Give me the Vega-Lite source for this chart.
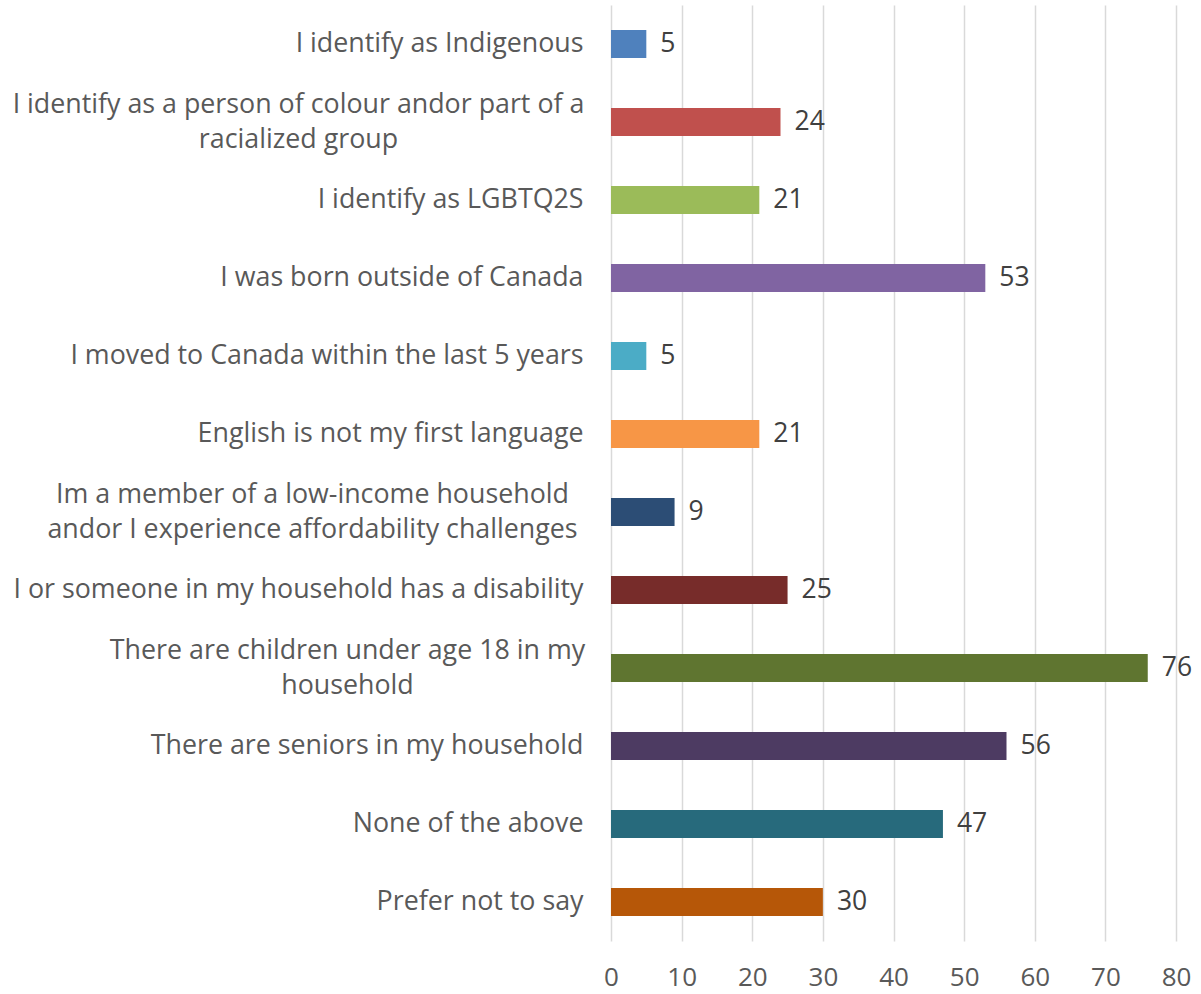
{
  "$schema": "https://vega.github.io/schema/vega-lite/v6.json",
  "autosize": {"type": "none"},
  "width": 565,
  "height": 936,
  "padding": {"left": 611, "top": 5, "right": 25, "bottom": 53},
  "background": "white",
  "config": {
    "view": {"stroke": null},
    "font": "Open Sans"
  },
  "data": {
    "values": [
      {"group": "I identify as Indigenous", "count": 5, "color": "#4F81BD"},
      {"group": "I identify as a person of colour andor part of a|racialized group", "count": 24, "color": "#C0504D"},
      {"group": "I identify as LGBTQ2S", "count": 21, "color": "#9BBB59"},
      {"group": "I was born outside of Canada", "count": 53, "color": "#8064A2"},
      {"group": "I moved to Canada within the last 5 years", "count": 5, "color": "#4BACC6"},
      {"group": "English is not my first language", "count": 21, "color": "#F79646"},
      {"group": "Im a member of a low-income household|andor I experience affordability challenges", "count": 9, "color": "#2C4D75"},
      {"group": "I or someone in my household has a disability", "count": 25, "color": "#772C2A"},
      {"group": "There are children under age 18 in my|household", "count": 76, "color": "#5F7530"},
      {"group": "There are seniors in my household", "count": 56, "color": "#4D3B62"},
      {"group": "None of the above", "count": 47, "color": "#276A7C"},
      {"group": "Prefer not to say", "count": 30, "color": "#B65708"}
    ]
  },
  "encoding": {
    "y": {
      "field": "group",
      "type": "nominal",
      "sort": null,
      "scale": {"paddingInner": 0, "paddingOuter": 0},
      "axis": {
        "title": null,
        "domain": false,
        "ticks": false,
        "labelExpr": "split(datum.label, '|')",
        "labelFont": "Open Sans",
        "labelFontSize": 26.8,
        "labelColor": "#595959",
        "labelLineHeight": 35,
        "labelLimit": 700,
        "labelBaseline": "middle",
        "labelAlign": {
          "condition": {"test": "indexof(datum.value, '|') >= 0", "value": "center"},
          "value": "right"
        },
        "labelOffset": {
          "condition": {"test": "indexof(datum.value, '|') >= 0", "value": -17.5},
          "value": 0
        },
        "labelPadding": {
          "condition": [
            {"test": "indexof(datum.value, 'person of colour') >= 0", "value": 313},
            {"test": "indexof(datum.value, 'low-income') >= 0", "value": 299},
            {"test": "indexof(datum.value, 'children') >= 0", "value": 264}
          ],
          "value": 28
        }
      }
    },
    "x": {
      "field": "count",
      "type": "quantitative",
      "scale": {"domain": [0, 80]},
      "axis": {
        "title": null,
        "values": [0, 10, 20, 30, 40, 50, 60, 70, 80],
        "domain": false,
        "ticks": false,
        "grid": true,
        "gridColor": "#D9D9D9",
        "gridWidth": 1.5,
        "labelFlush": false,
        "labelFont": "Open Sans",
        "labelFontSize": 26,
        "labelColor": "#595959",
        "labelPadding": 23
      }
    }
  },
  "layer": [
    {
      "mark": {"type": "bar", "size": 28},
      "encoding": {
        "color": {"field": "color", "type": "nominal", "scale": null, "legend": null}
      }
    },
    {
      "mark": {"type": "text", "align": "left", "baseline": "middle", "dx": 14, "font": "Open Sans", "fontSize": 26.5, "color": "#404040"},
      "encoding": {
        "text": {"field": "count", "type": "quantitative"}
      }
    }
  ]
}
